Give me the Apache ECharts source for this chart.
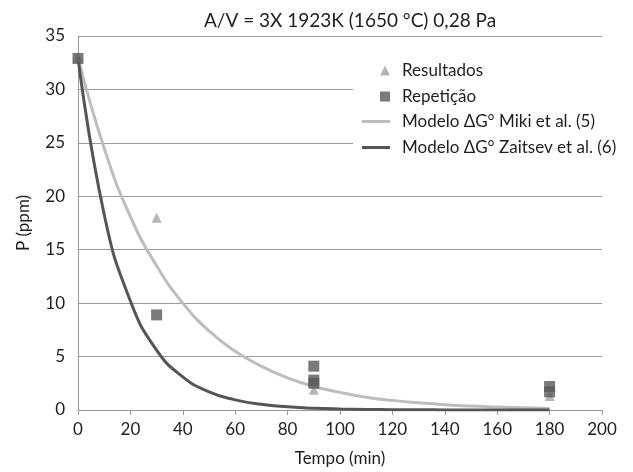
<!DOCTYPE html>
<html><head><meta charset="utf-8">
<script src="https://cdn.jsdelivr.net/npm/echarts@6/dist/echarts.min.js"></script>
<style>html,body{margin:0;padding:0;background:#fff}#c{width:633px;height:472px}</style>
</head><body><div id="c"></div>
<script>
const titleText = 'A/V = 3X 1923K (1650 °C) 0,28 Pa';
const xAxisName = 'Tempo (min)';
const yAxisName = 'P (ppm)';
const resultados = [[0, 33], [30, 18], [90, 1.9], [180, 1.3]];
const repeticao = [[0, 32.9], [30, 8.9], [90, 4.1], [90, 2.8], [90, 2.5], [180, 2.2], [180, 1.7]];
const curveTimes = [0, 10, 20, 30, 40, 50, 60, 70, 80, 90, 100, 110, 120, 130, 140, 150, 160, 170, 180];
const miki = [33, 24.5, 18.1, 13.5, 10.0, 7.4, 5.5, 4.1, 3.0, 2.2, 1.65, 1.2, 0.9, 0.68, 0.5, 0.37, 0.28, 0.2, 0.15];
const zaitsev = [33, 18.3, 10.2, 5.6, 3.1, 1.7, 0.95, 0.53, 0.3, 0.16, 0.09, 0.05, 0.03, 0.02, 0.01, 0.01, 0, 0, 0];
const names = ['Resultados', 'Repetição', 'Modelo ΔG° Miki et al. (5)', 'Modelo ΔG° Zaitsev et al. (6)'];

const font = 'Lato, "Open Sans", sans-serif';
const txt = { fontFamily: font, fontSize: 17, color: '#1e1e1e' };
const chart = echarts.init(document.getElementById('c'));
chart.setOption({
  animation: false,
  backgroundColor: '#fff',
  title: { text: titleText, left: 345, top: 6, textAlign: 'center',
    textStyle: { fontFamily: font, fontSize: 19, fontWeight: 'normal', color: '#1e1e1e' } },
  grid: { left: 78, right: 31, top: 36, bottom: 62 },
  graphic: [{ type: 'rect', z: 5, shape: { x: 353, y: 57, width: 250, height: 100 }, style: { fill: '#fff' } }],
  legend: [
    { data: [{ name: names[0], icon: 'triangle' }, { name: names[1], icon: 'rect' }],
      orient: 'vertical', left: 375, top: 57, itemWidth: 10, itemHeight: 10, itemGap: 9, z: 10,
      textStyle: Object.assign({ padding: [0, 0, 0, 7] }, txt) },
    { data: [{ name: names[2], icon: 'rect' }, { name: names[3], icon: 'rect' }],
      orient: 'vertical', left: 357, top: 108, itemWidth: 28, itemHeight: 3, itemGap: 9, z: 10,
      textStyle: Object.assign({ padding: [0, 0, 0, 7] }, txt) }
  ],
  xAxis: { type: 'value', min: 0, max: 200, interval: 20,
    name: xAxisName, nameLocation: 'middle', nameGap: 40,
    nameTextStyle: txt,
    axisLine: { lineStyle: { color: '#999' } },
    axisTick: { show: true, length: 5, lineStyle: { color: '#999' } },
    axisLabel: Object.assign({ margin: 11 }, txt),
    splitLine: { show: false } },
  yAxis: { type: 'value', min: 0, max: 35, interval: 5,
    name: yAxisName, nameLocation: 'middle', nameGap: 46,
    nameTextStyle: txt,
    axisLine: { show: true, lineStyle: { color: '#999' } },
    axisTick: { show: false },
    axisLabel: Object.assign({ margin: 13 }, txt),
    splitLine: { lineStyle: { color: '#999', width: 1 } } },
  series: [
    { name: names[2], type: 'line', smooth: true, symbol: 'none', z: 2,
      data: curveTimes.map((t, i) => [t, miki[i]]),
      lineStyle: { color: '#bdbdbd', width: 3 }, itemStyle: { color: '#bdbdbd' } },
    { name: names[3], type: 'line', smooth: true, symbol: 'none', z: 2,
      data: curveTimes.map((t, i) => [t, zaitsev[i]]),
      lineStyle: { color: '#555', width: 3 }, itemStyle: { color: '#555' } },
    { name: names[0], type: 'scatter', symbol: 'triangle', symbolSize: 10, z: 3,
      data: resultados, itemStyle: { color: '#a3a3a3' } },
    { name: names[1], type: 'scatter', symbol: 'rect', symbolSize: 11, z: 4,
      data: repeticao, itemStyle: { color: '#595959' } }
  ]
});
</script></body></html>
